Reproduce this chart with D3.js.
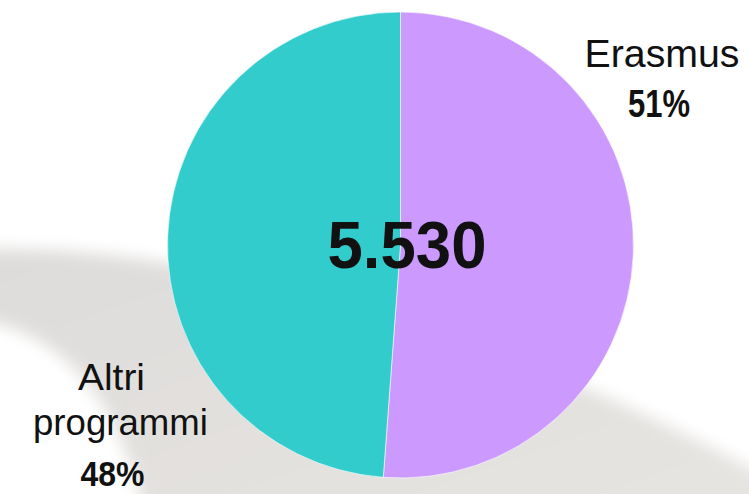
<!DOCTYPE html>
<html>
<head>
<meta charset="utf-8">
<script src="https://cdn.jsdelivr.net/npm/d3@7"></script>
<style>
  html, body { margin: 0; padding: 0; background: #ffffff; }
  svg { display: block; }
  text { font-family: "Liberation Sans", Arial, sans-serif; }
</style>
</head>
<body>
<svg id="chart" width="749" height="494"></svg>
<script>
// ---- data ----
const categories = ["Erasmus", "Altri programmi"];
const values = [2830, 2700];
const percentLabels = ["51%", "48%"];
const totalLabel = "5.530";
const colors = ["#CC99FF", "#33CCCC"];

const W = 749, H = 494;
const svg = d3.select("#chart");

// ---- decorative background swoosh ----
const defs = svg.append("defs");
defs.append("filter").attr("id", "blur")
  .attr("x", "-20%").attr("y", "-20%").attr("width", "140%").attr("height", "140%")
  .append("feGaussianBlur").attr("stdDeviation", 8);
const grad = defs.append("linearGradient").attr("id", "sw")
  .attr("x1", "0").attr("y1", "0").attr("x2", "1").attr("y2", "1");
grad.append("stop").attr("offset", "0").attr("stop-color", "#dedcda");
grad.append("stop").attr("offset", "1").attr("stop-color", "#e7e5e2");

svg.append("path")
  .attr("d", "M -40 250 C 200 238, 520 335, 790 490 L 790 540 L 150 540 C 130 430, 80 325, -40 318 Z")
  .attr("fill", "url(#sw)")
  .attr("filter", "url(#blur)");

// ---- pie ----
const cx = 400.5, cy = 245, r = 233;
const pie = d3.pie().sort(null).value(d => d)(values);
const arc = d3.arc().innerRadius(0).outerRadius(r);
const g = svg.append("g").attr("transform", `translate(${cx},${cy})`);
g.selectAll("path").data(pie).join("path")
  .attr("d", arc)
  .attr("fill", (d, i) => colors[i])
  .attr("stroke", "#ffffff")
  .attr("stroke-width", 0.6);

// ---- helper for condensed text ----
function label(x, y, size, bold, txt, len) {
  svg.append("text")
    .attr("x", x).attr("y", y)
    .attr("text-anchor", "middle")
    .attr("font-size", size)
    .attr("font-weight", bold ? "bold" : "normal")
    .attr("fill", "#111")
    .attr("textLength", len)
    .attr("lengthAdjust", "spacingAndGlyphs")
    .text(txt);
}

// ---- total in center ----
label(407, 268, 67, true, totalLabel, 159);

// ---- labels ----
label(662, 67, 38, false, categories[0], 155);
label(659, 117, 38, true, percentLabels[0], 62);

const words = categories[1].split(" ");
label(111.5, 390, 37, false, words[0], 67);
label(120.5, 435, 37, false, words[1], 175);
label(112.5, 486, 35, true, percentLabels[1], 64);
</script>
</body>
</html>
